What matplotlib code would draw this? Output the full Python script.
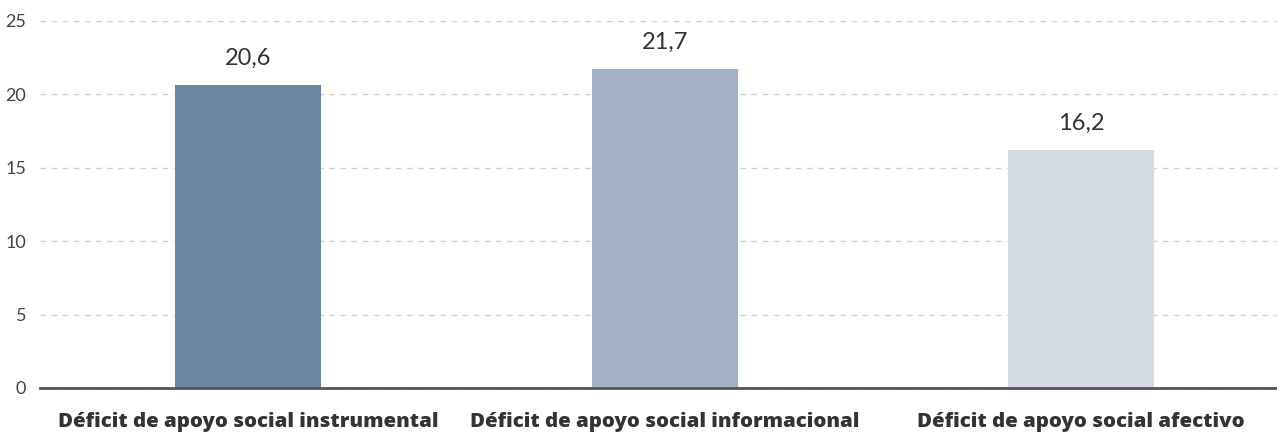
import matplotlib
matplotlib.use("Agg")
import matplotlib.pyplot as plt

categories = ["Déficit de apoyo social instrumental",
              "Déficit de apoyo social informacional",
              "Déficit de apoyo social afectivo"]
values = [20.6, 21.7, 16.2]
value_labels = ["20,6", "21,7", "16,2"]
yticks = [0, 5, 10, 15, 20, 25]
colors = ["#6C87A3", "#A3B1C4", "#D3DAE3"]

plt.rcParams['font.family'] = ['Lato', 'DejaVu Sans']

fig = plt.figure(figsize=(12.77, 4.33), dpi=100)
ax = fig.add_axes([0.0313, 0.104, 0.9687, 0.848])

x = list(range(len(categories)))
ax.bar(x, values, width=0.35, color=colors, zorder=3)
for xi, v, lab in zip(x, values, value_labels):
    ax.text(xi, v + 1.1, lab, ha='center', va='bottom', fontsize=17, color='#333333')

ax.set_ylim(0, 25)
ax.set_xlim(-0.5, 2.47)
ax.set_yticks(yticks)
ax.set_yticklabels([str(t) for t in yticks], fontsize=13, color='#444444')
ax.set_xticks(x)
ax.set_xticklabels(categories, fontsize=14.7, fontweight='heavy', color='#333333',
                   family=['Open Sans', 'DejaVu Sans'])
ax.tick_params(axis='both', length=0)
ax.tick_params(axis='x', pad=17)
ax.tick_params(axis='y', pad=10)
ax.yaxis.grid(True, linestyle=(0, (4, 4)), color='#d0d0d0', linewidth=1, zorder=0)
for s in ['top', 'right', 'left']:
    ax.spines[s].set_visible(False)
ax.spines['bottom'].set_color('#555555')
ax.spines['bottom'].set_linewidth(2)
ax.spines['bottom'].set_zorder(4)

fig.savefig("out.png", dpi=100)
